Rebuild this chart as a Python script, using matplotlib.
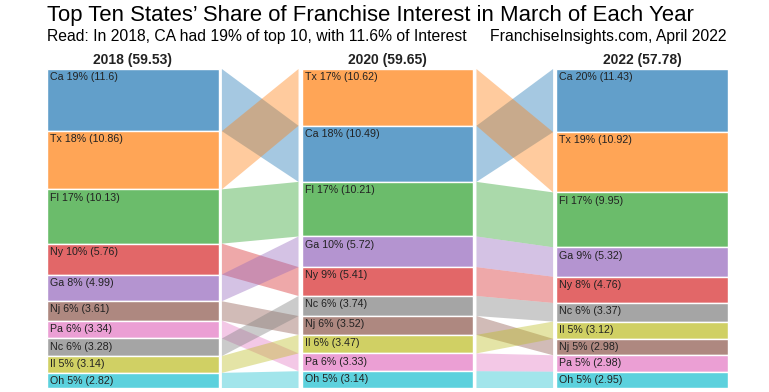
import matplotlib
matplotlib.use("Agg")
import matplotlib.pyplot as plt
from matplotlib.colors import to_rgba

plt.rcParams['font.family'] = ['Liberation Sans', 'DejaVu Sans']

years = ['2018', '2020', '2022']
states_2018 = ['Ca', 'Tx', 'Fl', 'Ny', 'Ga', 'Nj', 'Pa', 'Nc', 'Il', 'Oh']
values_2018 = [11.6, 10.86, 10.13, 5.76, 4.99, 3.61, 3.34, 3.28, 3.14, 2.82]
pct_2018 = [19, 18, 17, 10, 8, 6, 6, 6, 5, 5]
states_2020 = ['Tx', 'Ca', 'Fl', 'Ga', 'Ny', 'Nc', 'Nj', 'Il', 'Pa', 'Oh']
values_2020 = [10.62, 10.49, 10.21, 5.72, 5.41, 3.74, 3.52, 3.47, 3.33, 3.14]
pct_2020 = [17, 18, 17, 10, 9, 6, 6, 6, 6, 5]
states_2022 = ['Ca', 'Tx', 'Fl', 'Ga', 'Ny', 'Nc', 'Il', 'Nj', 'Pa', 'Oh']
values_2022 = [11.43, 10.92, 9.95, 5.32, 4.76, 3.37, 3.12, 2.98, 2.98, 2.95]
pct_2022 = [20, 19, 17, 9, 8, 6, 5, 5, 5, 5]

state_colors = {
    'Ca': '#1f77b4', 'Tx': '#ff7f0e', 'Fl': '#2ca02c', 'Ny': '#d62728',
    'Ga': '#9467bd', 'Nj': '#8c564b', 'Pa': '#e377c2', 'Nc': '#7f7f7f',
    'Il': '#bcbd22', 'Oh': '#17becf',
}

columns = [
    (states_2018, values_2018, pct_2018),
    (states_2020, values_2020, pct_2020),
    (states_2022, values_2022, pct_2022),
]

W, H = 769, 392
fig = plt.figure(figsize=(W / 100, H / 100), dpi=100)
left_px, right_px, top_px, bot_px = 47, 728, 69, 388
ax = fig.add_axes([left_px / W, (H - bot_px) / H, (right_px - left_px) / W, (bot_px - top_px) / H])
w = 0.675
ax.set_xlim(-w / 2, 2 + w / 2)
ax.set_ylim(1, 0)
ax.axis('off')

segs = []
for states, vals, pcts in columns:
    tot = sum(vals)
    d = {}
    cum = 0.0
    for s, v in zip(states, vals):
        p = v / tot
        d[s] = (cum, cum + p)
        cum += p
    segs.append(d)

gap = 0.012
for i in range(len(columns) - 1):
    x0 = i + w / 2 + gap
    x1 = i + 1 - w / 2 - gap
    for s in states_2018:
        a0, a1 = segs[i][s]
        b0, b1 = segs[i + 1][s]
        ax.fill([x0, x1, x1, x0], [a0, b0, b1, a1],
                color=to_rgba(state_colors[s], 0.4), linewidth=0, zorder=1)

for i, (states, vals, pcts) in enumerate(columns):
    tot = sum(vals)
    for s, v, pc in zip(states, vals, pcts):
        y0, y1 = segs[i][s]
        ax.bar(i, y1 - y0, bottom=y0, width=w,
               color=to_rgba(state_colors[s], 0.7),
               edgecolor='white', linewidth=1.0, zorder=2)
        ax.text(i - w / 2 + 0.012, y0 + 0.01, f"{s} {pc}% ({v:g})",
                fontsize=7.7, color='#222222', va='top', ha='left', zorder=3)
    ax.text(i, -0.028, f"{years[i]} ({tot:.2f})", fontsize=10, fontweight='bold',
            ha='center', va='center', color='#222222')

fig.text(47 / W, 1 - 16 / H, "Top Ten States\u2019 Share of Franchise Interest in March of Each Year",
         fontsize=15.9, ha='left', va='center', color='black')
fig.text(47 / W, 1 - 37 / H, "Read: In 2018, CA had 19% of top 10, with 11.6% of Interest",
         fontsize=11.3, ha='left', va='center', color='black')
fig.text(727 / W, 1 - 37 / H, "FranchiseInsights.com, April 2022",
         fontsize=11.3, ha='right', va='center', color='black')

fig.savefig('out.png', dpi=100, facecolor='white')
